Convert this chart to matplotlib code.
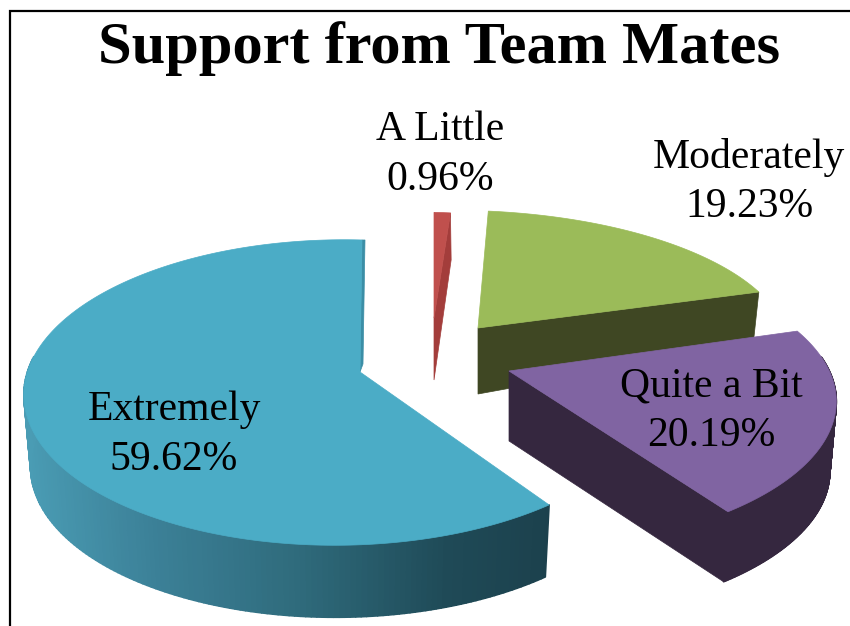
import numpy as np
import matplotlib
matplotlib.use("Agg")
import matplotlib.pyplot as plt
from matplotlib.patches import Polygon
from matplotlib.collections import PolyCollection
from matplotlib.colors import to_rgb

categories = ["A Little", "Moderately", "Quite a Bit", "Extremely"]
values = [0.96, 19.23, 20.19, 59.62]
value_labels = ["0.96%", "19.23%", "20.19%", "59.62%"]
title = "Support from Team Mates"

top_colors = ["#c0504d", "#9bbb59", "#8064a2", "#4bacc6"]
side_colors = ["#a33d3b", "#3f4723", "#35273f", None]

# apex x, apex y, x scale, y scale, depth, perspective p, perspective q, shear
geometry = {
    "A Little": (434, 318, 1.0, 0.80, 62, 0.134, 0.065, 0),
    "Moderately": (478, 328, 1.05, 0.89, 66, 0.134, 0.065, -7),
    "Quite a Bit": (509, 371, 1.03, 0.95, 70, 0.205, 0.0, 0),
    "Extremely": (360, 372, 1.0, 1.0, 72, 0.134, 0.065, 2),
}
label_pos = {
    "A Little": (440, 155),
    "Moderately": (749, 182),
    "Quite a Bit": (711, 411),
    "Extremely": (174, 435),
}
R, RK = 311.0, 149.7


def rim(theta, g):
    cx, cy, sx, sy, _, p, q, shear = g
    u, v = np.sin(theta), np.cos(theta)
    d = 1 + p * v + q * u
    return cx + sx * R * u / d + shear * v, cy - sy * RK * v / d


def drop(x, y, g):
    cx, depth = g[0], g[4]
    return cx + (np.asarray(x) - cx) * 0.98, np.asarray(y) + depth


grad_x = [25, 150, 300, 450, 552]
grad_c = ["#4a9cb4", "#3c8198", "#2f6b7c", "#1f4a57", "#1c414d"]
grad_rgb = np.array([to_rgb(c) for c in grad_c])


def side_color(x, base):
    if base is not None:
        return to_rgb(base)
    return tuple(np.interp(x, grad_x, grad_rgb[:, i]) for i in range(3))


fig = plt.figure(figsize=(8.5, 6.26), dpi=100)
ax = fig.add_axes([0, 0, 1, 1])
ax.set_xlim(0, 850)
ax.set_ylim(626, 0)
ax.axis("off")

ax.plot([10.5, 10.5, 850], [626, 11, 11], color="black", lw=1.6, solid_joinstyle="miter")

fractions = np.array(values) / sum(values)
starts = np.concatenate([[0], np.cumsum(fractions)[:-1]]) * 2 * np.pi
ends = np.cumsum(fractions) * 2 * np.pi
zorder = {"A Little": 2, "Moderately": 3, "Extremely": 4, "Quite a Bit": 5}

for i, name in enumerate(categories):
    g = geometry[name]
    cx, cy = g[0], g[1]
    t = np.linspace(starts[i], ends[i], 240)
    xs, ys = rim(t, g)
    bx, by = drop(xs, ys, g)
    z = zorder[name]
    # outer wall
    if name not in ("Moderately", "A Little"):
        quads, cols = [], []
        for k in range(len(t) - 1):
            if np.cos((t[k] + t[k + 1]) / 2) > 0.1:
                continue
            quads.append([(xs[k], ys[k]), (xs[k + 1], ys[k + 1]), (bx[k + 1], by[k + 1]), (bx[k], by[k])])
            cols.append(side_color(xs[k], side_colors[i]))
        ax.add_collection(PolyCollection(quads, facecolors=cols, edgecolors=cols, linewidths=1.2, zorder=z))
    # visible cut faces
    acx, acy = drop(cx, cy, g)
    if name == "Moderately":
        ax.add_patch(Polygon([(cx, cy), (xs[-1], ys[-1]), (bx[-1], by[-1] - 14), (acx, acy)],
                             fc=side_colors[i], ec=side_colors[i], lw=0.5, zorder=z))
    elif name == "Quite a Bit":
        ax.add_patch(Polygon([(cx, cy), (xs[-1], ys[-1]), (bx[-1], by[-1]), (acx, acy)],
                             fc=side_colors[i], ec=side_colors[i], lw=0.5, zorder=z))
    elif name == "A Little":
        ax.add_patch(Polygon([(cx, cy), (xs[-1], ys[-1]), (bx[-1] + 1, by[-1] - 15), (acx, acy)],
                             fc=side_colors[i], ec=side_colors[i], lw=0.5, zorder=z))
    elif name == "Extremely":
        ax.add_patch(Polygon([(cx, cy), (xs[-1], ys[-1]), (xs[-1] + 3, ys[-1]), (cx + 3, cy - 8)],
                             fc="#3b8ea6", ec="#3b8ea6", lw=0.5, zorder=z))
    # top face
    ax.add_patch(Polygon(np.column_stack([np.r_[cx, xs], np.r_[cy, ys]]),
                         fc=top_colors[i], ec=top_colors[i], lw=0.5, zorder=z + 0.5))

ax.text(439, 49, title, family="Liberation Serif", weight="bold", fontsize=43.5,
        ha="center", va="center", color="black", zorder=10)
for name, val in zip(categories, value_labels):
    x, y = label_pos[name]
    ax.text(x, y, f"{name}\n{val}", family="Liberation Serif", fontsize=30, ha="center",
            va="center", color="black", linespacing=1.38, zorder=10)

fig.savefig("out.png", dpi=100)
